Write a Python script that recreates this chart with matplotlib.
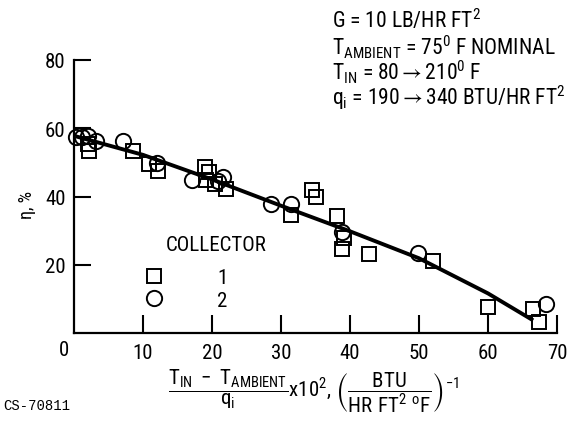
import matplotlib
matplotlib.use("Agg")
import matplotlib.pyplot as plt
from matplotlib.lines import Line2D
import matplotlib.transforms as mtransforms
from matplotlib import font_manager as fm

# ---- data ----
c1_x = [2.0, 2.2, 8.5, 10.9, 12.2, 19.0, 19.6, 19.2, 20.4, 22.1, 31.5, 34.5, 35.1,
        38.1, 39.2, 38.9, 42.7, 52.0, 60.0, 66.5, 67.4]
c1_y = [55.5, 53.2, 53.2, 49.4, 47.5, 48.7, 47.2, 44.8, 43.8, 42.1, 34.5, 41.8, 39.9,
        34.4, 27.7, 24.6, 23.2, 21.2, 7.6, 7.1, 3.2]
c2_x = [0.3, 1.1, 2.1, 3.2, 7.1, 12.0, 17.1, 20.8, 21.6, 28.6, 31.4, 38.8, 49.8, 68.4]
c2_y = [57.4, 57.4, 57.6, 56.4, 56.3, 49.8, 44.8, 44.5, 45.7, 37.7, 37.7, 29.7, 23.4, 8.5]
fit_x = [0.5, 10, 20, 30, 40, 50, 60, 66.3]
fit_y = [57.5, 52.2, 45.0, 37.3, 29.8, 21.9, 11.6, 4.0]

x_ticks = [10, 20, 30, 40, 50, 60, 70]
y_ticks = [20, 40, 60, 80]
legend_title = "COLLECTOR"
legend_labels = ["1", "2"]
info_lines = [r"G = 10 LB/HR FT$^2$",
              r"T$_{\rm AMBIENT}$ = 75$^0$ F NOMINAL",
              r"T$_{\rm IN}$ = 80${\rightarrow}$210$^0$ F",
              r"q$_{\rm i}$ = 190${\rightarrow}$340 BTU/HR FT$^2$"]

# pick a narrow font if one is installed
cands = [("Roboto Condensed", "normal"), ("Liberation Sans Narrow", "normal"),
         ("DejaVu Sans", "condensed"), ("Roboto", "normal"), ("Liberation Sans", "normal")]
chosen, stretch = "DejaVu Sans", "normal"
for name, st in cands:
    try:
        p = fm.findfont(fm.FontProperties(family=name, stretch=st), fallback_to_default=False)
    except Exception:
        continue
    if st == "condensed" and "Condensed" not in p:
        continue
    chosen, stretch = name, st
    break
narrow = chosen in ("Roboto Condensed", "Liberation Sans Narrow") or stretch == "condensed"

plt.rcParams["font.family"] = [chosen, "DejaVu Sans"]
plt.rcParams["font.stretch"] = stretch
plt.rcParams["mathtext.fontset"] = "custom"
plt.rcParams["mathtext.rm"] = chosen
plt.rcParams["mathtext.it"] = chosen
plt.rcParams["mathtext.bf"] = chosen
plt.rcParams["mathtext.fallback"] = "stixsans"

FS = 15.5 if narrow else 13.5
TFS = 15 if narrow else 13

W, H = 574, 427
fig = plt.figure(figsize=(W / 100, H / 100), dpi=100)

def fx(px):
    return px / W

def fy(py):
    return 1 - py / H

x0, x70, y0, y80 = 74, 557, 334, 61
ax = fig.add_axes([fx(x0), fy(y0), fx(x70) - fx(x0), fy(y80) - fy(y0)])
ax.set_xlim(0, 70)
ax.set_ylim(0, 80)
for s in ("top", "right"):
    ax.spines[s].set_visible(False)
for s in ("left", "bottom"):
    ax.spines[s].set_linewidth(1.6)

ax.set_xticks(x_ticks)
ax.set_xticklabels([str(v) for v in x_ticks])
ax.set_yticks(y_ticks)
ax.set_yticklabels([str(v) for v in y_ticks])
ax.tick_params(axis="x", direction="in", length=13, width=1.5, pad=7, labelsize=TFS)
ax.tick_params(axis="y", direction="in", length=12, width=1.5, pad=6, labelsize=TFS)

ax.plot(fit_x, fit_y, color="black", lw=2.8, zorder=2, clip_on=False)
ax.plot(c1_x, c1_y, ls="none", marker="s", ms=10.5, mfc="none", mec="black",
        mew=1.4, zorder=3, clip_on=False)
ax.plot(c2_x, c2_y, ls="none", marker="o", ms=11, mfc="none", mec="black",
        mew=1.4, zorder=3, clip_on=False)

# origin label
trans = mtransforms.blended_transform_factory(ax.transData, ax.transAxes)
ax.text(-1.5, -0.06, "0", transform=trans, ha="center", va="center", fontsize=TFS)

# legend
ax.text(0.295, 0.325, legend_title, transform=ax.transAxes, ha="center", va="center",
        fontsize=TFS)
handles = [Line2D([], [], ls="none", marker="s", ms=10.5, mfc="none", mec="black", mew=1.4),
           Line2D([], [], ls="none", marker="o", ms=11, mfc="none", mec="black", mew=1.4)]
ax.legend(handles, legend_labels, loc="center left", bbox_to_anchor=(0.145, 0.161),
          frameon=False, fontsize=TFS, handlelength=1.0, handletextpad=2.5,
          labelspacing=0.15, borderpad=0, borderaxespad=0)

# y label
fig.text(fx(27), fy(205), "η, %", rotation=90, ha="center", va="center", fontsize=13)

# info text
for t, yy in zip(info_lines, [21, 47, 72, 98]):
    fig.text(fx(332), fy(yy), t, ha="left", va="center", fontsize=FS)

# x label
xl = (r"$\dfrac{\rm T_{IN}\ -\ T_{AMBIENT}}{\rm q_i}$x10$^2$, "
      r"$\left(\dfrac{\rm BTU}{\rm HR\ FT^2\ {}^oF}\right)^{-1}$")
fig.text(fx(314), fy(391), xl, ha="center", va="center", fontsize=TFS)

fig.text(fx(3), fy(406), "CS-70811", ha="left", va="center", fontsize=10,
         family=["Liberation Mono", "DejaVu Sans Mono"])

fig.savefig("out.png", dpi=100)
